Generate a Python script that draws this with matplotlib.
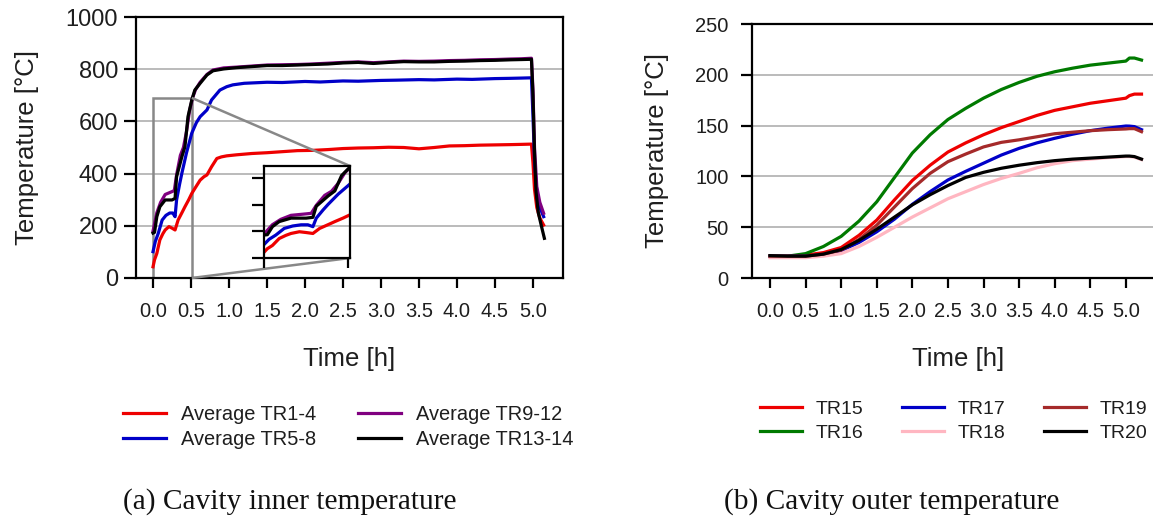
"""Cavity inner / outer temperature curves (two panels with captions)."""

import matplotlib
matplotlib.use("Agg")
import matplotlib.pyplot as plt
from mpl_toolkits.axes_grid1.inset_locator import mark_inset

# ── (a) cavity inner temperature ────────────────────────────────────────
TIME_TR1_4 = [0.0, 0.02, 0.05, 0.09, 0.13, 0.16, 0.21, 0.25, 0.29, 0.33, 0.38, 0.42,
              0.47, 0.51, 0.57, 0.62, 0.67, 0.71, 0.77, 0.84, 0.90, 0.97, 1.1, 1.3,
              1.5, 1.7, 1.9, 2.1, 2.3, 2.5, 2.7, 2.9, 3.1, 3.3, 3.5, 3.7, 3.9, 4.1,
              4.3, 4.5, 4.7, 4.85, 4.98, 5.0, 5.02, 5.05, 5.09, 5.14]
TEMP_TR1_4 = [43, 70, 94, 146, 170, 184, 197, 191, 184, 222, 250, 273,
              300, 324, 352, 375, 388, 395, 426, 458, 464, 468, 472, 477,
              480, 484, 488, 489, 492, 496, 498, 499, 501, 500, 495, 500, 506, 507,
              509, 510, 511, 512, 513, 440, 340, 270, 230, 203]

TIME_TR5_8 = [0.0, 0.03, 0.07, 0.12, 0.17, 0.22, 0.26, 0.29, 0.31, 0.35, 0.38, 0.44,
              0.51, 0.57, 0.62, 0.71, 0.77, 0.88, 0.97, 1.05, 1.2, 1.5, 1.7, 2.0,
              2.2, 2.5, 2.7, 3.0, 3.2, 3.5, 3.7, 4.0, 4.2, 4.5, 4.7, 4.85, 4.98,
              5.0, 5.02, 5.05, 5.09, 5.14]
TEMP_TR5_8 = [101, 140, 172, 222, 240, 249, 249, 235, 299, 360, 402, 479,
              555, 595, 618, 644, 682, 720, 733, 740, 746, 750, 749, 753,
              751, 755, 754, 757, 758, 760, 759, 762, 761, 764, 765, 766, 767,
              620, 450, 330, 270, 235]

TIME_TR9_12 = [0.0, 0.05, 0.10, 0.16, 0.25, 0.28, 0.31, 0.36, 0.40, 0.44, 0.48, 0.52,
               0.56, 0.62, 0.71, 0.79, 0.93, 1.1, 1.3, 1.5, 1.7, 1.9, 2.1, 2.3, 2.5,
               2.7, 2.9, 3.1, 3.3, 3.5, 3.7, 3.9, 4.1, 4.3, 4.5, 4.7, 4.85, 4.98,
               5.0, 5.02, 5.05, 5.09, 5.14]
TEMP_TR9_12 = [180, 250, 290, 320, 331, 335, 395, 470, 500, 560, 640, 690,
               722, 750, 780, 797, 805, 808, 812, 816, 817, 818, 820, 823, 826,
               828, 825, 828, 831, 830, 831, 833, 834, 836, 837, 839, 840, 842,
               720, 500, 350, 290, 248]

TIME_TR13_14 = [0.0, 0.02, 0.05, 0.09, 0.16, 0.25, 0.29, 0.31, 0.38, 0.42, 0.46, 0.51,
                0.55, 0.62, 0.71, 0.79, 0.93, 1.1, 1.3, 1.5, 1.7, 1.9, 2.1, 2.3, 2.5,
                2.7, 2.9, 3.1, 3.3, 3.5, 3.7, 3.9, 4.1, 4.3, 4.5, 4.7, 4.85, 4.98,
                5.0, 5.02, 5.04, 5.07, 5.11, 5.15]
TEMP_TR13_14 = [172, 175, 235, 273, 299, 299, 305, 388, 465, 503, 618, 682,
                720, 746, 778, 794, 801, 806, 810, 814, 814, 816, 818, 820, 824,
                826, 822, 826, 829, 828, 828, 830, 831, 833, 834, 836, 837, 838,
                700, 480, 330, 250, 200, 152]

INNER_LABELS = ["Average TR1-4", "Average TR5-8", "Average TR9-12", "Average TR13-14"]
INNER_COLORS = ["#ee0000", "#0000c8", "#800080", "#000000"]

# ── (b) cavity outer temperature ────────────────────────────────────────
TIME_OUT = [0.0, 0.25, 0.5, 0.75, 1.0, 1.25, 1.5, 1.75, 2.0, 2.25, 2.5, 2.75,
            3.0, 3.25, 3.5, 3.75, 4.0, 4.25, 4.5, 4.75, 5.0, 5.05, 5.12, 5.22]
TEMP_TR15 = [21.5, 21.5, 22.5, 25, 30, 42, 57, 77, 96, 111, 124, 133,
             141, 148, 154, 160, 165, 168.5, 172, 174.5, 177, 179.5, 181, 181]
TEMP_TR16 = [21.5, 21.5, 24, 31, 41, 56, 75, 99, 123, 141, 156, 167,
             177, 185.5, 192.5, 198.5, 203, 206.5, 209.5, 211.5, 213.5, 216.5, 216.5, 214.5]
TEMP_TR17 = [21.5, 21.5, 21.5, 23, 27, 35, 45.5, 58, 72.5, 85, 96.5, 105,
             113, 121, 127.6, 133, 137.5, 141.5, 145, 147.5, 149.6, 149.5, 149, 146]
TEMP_TR18 = [20, 20, 20, 21.5, 24, 31, 40, 50, 60, 69, 78, 85,
             92, 98, 103, 108.5, 112.5, 115.5, 117, 118.5, 119.5, 119.5, 119, 116.5]
TEMP_TR19 = [21.5, 21.5, 21.5, 23.5, 27.5, 38, 52, 70, 88, 103, 114.5, 122,
             129, 133.5, 136, 139, 142, 143.5, 145, 146, 146.7, 147, 147, 144]
TEMP_TR20 = [22, 21.5, 21.5, 23.5, 28, 37, 48, 60, 72, 82, 91, 99,
             104, 108, 111, 113.5, 115.5, 117, 118, 119, 120, 120, 119.5, 117]

OUTER_LABELS = ["TR15", "TR16", "TR17", "TR18", "TR19", "TR20"]
OUTER_COLORS = ["#ee0000", "#007a00", "#0000c8", "#ffb6c1", "#a52a2a", "#000000"]

X_TICKS = [0.0, 0.5, 1.0, 1.5, 2.0, 2.5, 3.0, 3.5, 4.0, 4.5, 5.0]

TEXT = "#1e1e1e"
SANS = "Liberation Sans"
SERIF = "Liberation Serif"
LW = 2.3

plt.rcParams["font.family"] = SANS
plt.rcParams["text.color"] = TEXT


def style_axes(ax, yticks, ytick_len, ytick_size, ylab_pad, ytick_pad):
    for s in ax.spines.values():
        s.set_linewidth(1.6)
    ax.set_xticks(X_TICKS)
    ax.set_xticklabels([f"{t:.1f}" for t in X_TICKS])
    ax.set_yticks(yticks)
    ax.tick_params(axis="x", direction="out", length=7, width=1.6,
                   labelsize=14.5, pad=10, labelcolor=TEXT)
    ax.tick_params(axis="y", direction="out", length=ytick_len, width=1.6,
                   labelsize=ytick_size, pad=ytick_pad, labelcolor=TEXT)
    ax.grid(axis="y", color="#a8a8a8", linewidth=1.1)
    ax.set_axisbelow(True)
    ax.set_xlabel("Time [h]", fontsize=18.5, labelpad=19, color=TEXT)
    ax.set_ylabel("Temperature [°C]", fontsize=18.5, labelpad=ylab_pad, color=TEXT)


fig = plt.figure(figsize=(11.53, 5.21), dpi=100)
W, H = 1153, 521

# ── Left panel ──────────────────────────────────────────────────────────
ax1 = fig.add_axes([136 / W, (H - 278) / H, 427 / W, 261 / H])
inner = [(TIME_TR1_4, TEMP_TR1_4), (TIME_TR5_8, TEMP_TR5_8),
         (TIME_TR9_12, TEMP_TR9_12), (TIME_TR13_14, TEMP_TR13_14)]
for (t, v), lab, c in zip(inner, INNER_LABELS, INNER_COLORS):
    ax1.plot(t, v, color=c, lw=LW, label=lab)
ax1.set_xlim(-0.224, 5.395)
ax1.set_ylim(0, 1000)
style_axes(ax1, [0, 200, 400, 600, 800, 1000], 9, 17, 19, 4)

# inset zoom of the first half hour
axins = fig.add_axes([264 / W, (H - 258) / H, 86 / W, 92 / H])
axins.patch.set_alpha(0)
for (t, v), c in zip(inner, INNER_COLORS):
    axins.plot(t, v, color=c, lw=LW)
axins.set_xlim(0, 0.51)
axins.set_ylim(0, 690)
axins.set_xticks([0, 0.5])
axins.set_yticks([0, 200, 400, 600])
axins.set_xticklabels([])
axins.set_yticklabels([])
axins.tick_params(axis="x", direction="out", length=7, width=1.6)
axins.tick_params(axis="y", direction="out", length=9, width=1.6)
for s in axins.spines.values():
    s.set_linewidth(1.6)
mark_inset(ax1, axins, loc1=1, loc2=4, fc="none", ec="#888888", lw=1.8)

fig.legend(*ax1.get_legend_handles_labels(), loc="upper left",
           bbox_to_anchor=(107 / W, 1 - 389 / H), ncol=2, frameon=False,
           fontsize=14.4, handlelength=2.15, handletextpad=0.75,
           columnspacing=2.1, labelspacing=0.28, borderpad=0.3)

# ── Right panel ─────────────────────────────────────────────────────────
ax2 = fig.add_axes([752 / W, (H - 278) / H, 413 / W, 254 / H])
outer = [TEMP_TR15, TEMP_TR16, TEMP_TR17, TEMP_TR18, TEMP_TR19, TEMP_TR20]
for v, lab, c in zip(outer, OUTER_LABELS, OUTER_COLORS):
    ax2.plot(TIME_OUT, v, color=c, lw=LW, label=lab)
ax2.set_xlim(-0.253, 5.55)
ax2.set_ylim(0, 250)
style_axes(ax2, [0, 50, 100, 150, 200, 250], 8, 14.5, 18.5, 9)

fig.legend(*ax2.get_legend_handles_labels(), loc="upper left",
           bbox_to_anchor=(744 / W, 1 - 385 / H), ncol=3, frameon=False,
           fontsize=14, handlelength=2.2, handletextpad=0.7,
           columnspacing=1.95, labelspacing=0.32, borderpad=0.3)

# ── Captions ────────────────────────────────────────────────────────────
fig.text(290 / W, 1 - 502 / H, "(a) Cavity inner temperature", family=SERIF,
         fontsize=21.2, ha="center", va="center", color="#111111")
fig.text(892 / W, 1 - 502 / H, "(b) Cavity outer temperature", family=SERIF,
         fontsize=21.2, ha="center", va="center", color="#111111")

fig.savefig("out.png", dpi=100, facecolor="white")
plt.close(fig)
